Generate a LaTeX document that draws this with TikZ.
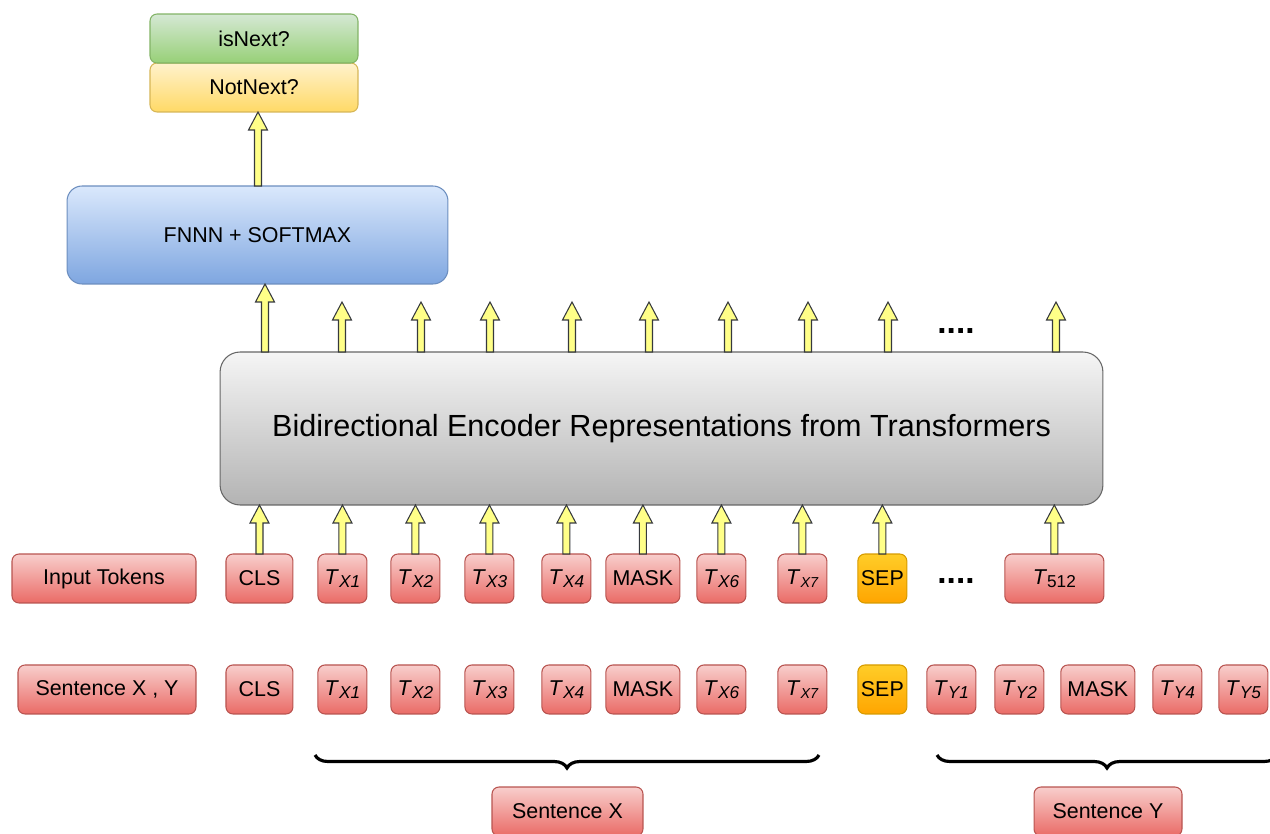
\documentclass[tikz,border=0pt]{standalone}
\usepackage{fontspec}
\setmainfont{Liberation Sans}
\usepackage{tikz}
\usetikzlibrary{positioning,calc,decorations.pathreplacing}
\usepackage{xcolor}
\definecolor{tokTop}{HTML}{F8CECC}
\definecolor{tokBot}{HTML}{EA6B66}
\definecolor{tokLine}{HTML}{B85450}
\definecolor{sepTop}{HTML}{FFCD28}
\definecolor{sepBot}{HTML}{FFA500}
\definecolor{sepLine}{HTML}{D79B00}
\definecolor{bertTop}{HTML}{F5F5F5}
\definecolor{bertBot}{HTML}{B3B3B3}
\definecolor{bertLine}{HTML}{666666}
\definecolor{ffnTop}{HTML}{DAE8FC}
\definecolor{ffnBot}{HTML}{7EA6E0}
\definecolor{ffnLine}{HTML}{6C8EBF}
\definecolor{nextTop}{HTML}{D5E8D4}
\definecolor{nextBot}{HTML}{97D077}
\definecolor{nextLine}{HTML}{82B366}
\definecolor{notTop}{HTML}{FFF2CC}
\definecolor{notBot}{HTML}{FFD966}
\definecolor{notLine}{HTML}{D6B656}
\definecolor{arrFill}{HTML}{FFFF88}
\definecolor{arrLine}{HTML}{36393D}
\newcommand\tk[1]{\textit{T}\raisebox{-1.7pt}{\fontsize{9.8}{11}\selectfont\textit{#1}}}
\newcommand\tksmall[1]{\textit{T}\raisebox{-1.9pt}{\fontsize{8.2}{9}\selectfont\textit{#1}}}

\begin{document}
\begin{tikzpicture}[
    x=0.02cm, y=-0.02cm,
    every node/.style={font=\fontsize{12.2}{14}\selectfont, inner sep=0pt, outer sep=0pt, align=center},
    box/.style={draw, line width=0.6pt, rounded corners=0.14cm, minimum height=0.98cm},
    tok/.style={box, draw=tokLine, top color=tokTop, bottom color=tokBot, minimum width=0.98cm},
    sep/.style={box, draw=sepLine, top color=sepTop, bottom color=sepBot, minimum width=0.98cm},
    fat/.style={draw=arrLine, fill=arrFill, line width=0.6pt, line join=miter,
        to path={let \p1=(\tikztostart), \p2=(\tikztotarget) in
            (\x1-0.07cm,\y1) -- (\x1-0.07cm,\y2-0.36cm) -- (\x1-0.19cm,\y2-0.36cm) -- (\x1,\y2)
            -- (\x1+0.19cm,\y2-0.36cm) -- (\x1+0.07cm,\y2-0.36cm) -- (\x1+0.07cm,\y1) -- cycle}},
    brace/.style={decorate, decoration={brace, mirror, amplitude=0.26cm}, line width=1.8pt},
    dotrow/.style={font=\bfseries\fontsize{19}{20}\selectfont, anchor=base}
]
    \useasboundingbox (0,0) rectangle (1270,834);
    \clip (0,0) rectangle (1270,834);

    % Encoder
    \node[box, draw=bertLine, top color=bertTop, bottom color=bertBot, rounded corners=0.4cm,
          minimum width=17.66cm, minimum height=3.06cm, font=\fontsize{17.4}{20}\selectfont]
          (bert) at (661.5,428.5) {Bidirectional Encoder Representations from Transformers};

    % Classifier
    \node[box, draw=ffnLine, top color=ffnTop, bottom color=ffnBot, rounded corners=0.3cm,
          minimum width=7.62cm, minimum height=1.96cm] (ffn) at (257.5,235) {FNNN + SOFTMAX};
    \node[box, draw=notLine, top color=notTop, bottom color=notBot, minimum width=4.16cm]
          (notnext) at (254,87.5) {NotNext?};
    \node[box, draw=nextLine, top color=nextTop, bottom color=nextBot, minimum width=4.16cm,
          above=0cm of notnext] (isnext) {isNext?};

    % Input tokens
    \node[tok, minimum width=3.68cm] (inp) at (104,578.5) {Input Tokens};
    \node[tok, minimum width=1.34cm, right=0.6cm of inp] (cls) {CLS};
    \node[tok, right=0.5cm of cls] (tx1) {\tk{X1}};
    \node[tok, right=0.48cm of tx1] (tx2) {\tk{X2}};
    \node[tok, right=0.5cm of tx2] (tx3) {\tk{X3}};
    \node[tok, right=0.56cm of tx3] (tx4) {\tk{X4}};
    \node[tok, minimum width=1.48cm, right=0.3cm of tx4] (mask) {MASK};
    \node[tok, right=0.34cm of mask] (tx6) {\tk{X6}};
    \node[tok, right=0.64cm of tx6] (tx7) {\tksmall{X7}};
    \node[sep, right=0.62cm of tx7] (sep) {SEP};
    \node[tok, minimum width=1.98cm, right=1.96cm of sep] (t512)
          {\textit{T}\raisebox{-1.7pt}{\fontsize{9.8}{11}\selectfont 512}};
    \node[dotrow] (dotsIn) at (956,583) {....};

    % Sentence X , Y
    \node[tok, minimum width=3.56cm, below=1.24cm of inp.south east, anchor=north east] (sxy) {Sentence X , Y};
    \node[tok, minimum width=1.34cm, below=1.24cm of cls] (clsB) {CLS};
    \node[tok, below=1.24cm of tx1] (tx1B) {\tk{X1}};
    \node[tok, below=1.24cm of tx2] (tx2B) {\tk{X2}};
    \node[tok, below=1.24cm of tx3] (tx3B) {\tk{X3}};
    \node[tok, below=1.24cm of tx4] (tx4B) {\tk{X4}};
    \node[tok, minimum width=1.48cm, below=1.24cm of mask] (maskB) {MASK};
    \node[tok, below=1.24cm of tx6] (tx6B) {\tk{X6}};
    \node[tok, below=1.24cm of tx7] (tx7B) {\tksmall{X7}};
    \node[sep, below=1.24cm of sep] (sepB) {SEP};
    \node[tok, right=0.4cm of sepB] (ty1) {\tk{Y1}};
    \node[tok, right=0.38cm of ty1] (ty2) {\tk{Y2}};
    \node[tok, minimum width=1.48cm, right=0.34cm of ty2] (maskY) {MASK};
    \node[tok, right=0.36cm of maskY] (ty4) {\tk{Y4}};
    \node[tok, right=0.34cm of ty4] (ty5) {\tk{Y5}};

    % Braces
    \coordinate (bxL) at (315,755);
    \coordinate (bxR) at (819,755);
    \coordinate (byL) at (937,755);
    \coordinate (byR) at (1277,755);
    \draw[brace] (bxL) -- (bxR);
    \draw[brace] (byL) -- (byR);
    \node[tok, minimum width=3.02cm] (sentX) at (567.5,811.5) {Sentence X};
    \node[tok, minimum width=2.96cm] (sentY) at (1108,811.5) {Sentence Y};

    % Arrows into the encoder
    \foreach \t in {cls,tx1,tx2,tx3,tx4,mask,tx6,tx7,sep,t512}
        \draw[fat] (\t.north) to (\t.north |- bert.south);

    % Arrows out of the encoder
    \foreach \o [count=\i] in {342,421,490,572,649,728,808,888,1056}
        \coordinate (out\i) at (\o,302);
    \foreach \i in {1,...,9}
        \draw[fat] (bert.north -| out\i) to (out\i);
    \node[dotrow] (dotsOut) at (956,334) {....};

    \coordinate (cls1) at (265,0);
    \coordinate (cls2) at (258,0);
    \draw[fat] (bert.north -| cls1) to (ffn.south -| cls1);
    \draw[fat] (ffn.north -| cls2) to (notnext.south -| cls2);
\end{tikzpicture}
\end{document}
